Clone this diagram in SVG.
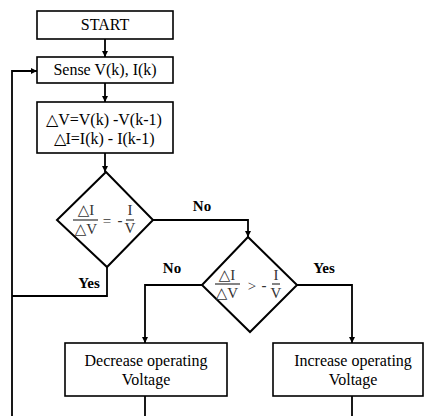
<svg xmlns="http://www.w3.org/2000/svg" width="424" height="416" viewBox="0 0 424 416">
<style>
.box{fill:#fff;stroke:#000;stroke-width:1.6}
.dia{fill:#fff;stroke:#000;stroke-width:2}
.t{font-family:"Liberation Serif","Times New Roman",serif;font-size:16px;fill:#000;text-anchor:middle}
.s{font-family:"Liberation Serif","DejaVu Serif",serif;font-size:15px;fill:#333;text-anchor:middle}
.lb{font-family:"Liberation Serif","Times New Roman",serif;font-size:15px;font-weight:bold;fill:#000;text-anchor:middle}
.c{fill:none;stroke:#000;stroke-width:1.8}
.fl{stroke:#333;stroke-width:1.2}
</style>
<defs>
<marker id="ah" markerUnits="userSpaceOnUse" markerWidth="7" markerHeight="7" refX="6" refY="3" orient="auto">
<path d="M0,0 L6,3 L0,6 z" fill="#000"/>
</marker>
</defs>
<g id="connectors">
<path class="c" d="M105,39 V57" marker-end="url(#ah)"/>
<path class="c" d="M105,83 V102" marker-end="url(#ah)"/>
<path class="c" d="M105,153 V172" marker-end="url(#ah)"/>
<path class="c" d="M107,267 V296 H12"/>
<path class="c" d="M12,416 V71 H37" marker-end="url(#ah)"/>
<path class="c" d="M153,220 H248 V237" marker-end="url(#ah)"/>
<path class="c" d="M297,285 H352 V343" marker-end="url(#ah)"/>
<path class="c" d="M202,285 H145 V343" marker-end="url(#ah)"/>
<path class="c" d="M145,396 V416"/>
<path class="c" d="M352,396 V416"/>
<text class="lb" x="89" y="288">Yes</text>
<text class="lb" x="202" y="211">No</text>
<text class="lb" x="172" y="273">No</text>
<text class="lb" x="324" y="273">Yes</text>
</g>
<g id="start">
<rect class="box" x="37" y="11" width="136" height="28"/>
<text class="t" x="105" y="30">START</text>
</g>
<g id="sense">
<rect class="box" x="37" y="57" width="136" height="26"/>
<text class="t" x="105" y="75">Sense V(k), I(k)</text>
</g>
<g id="delta">
<rect class="box" x="37" y="102" width="136" height="51"/>
<text class="t" x="104" y="125">△V=V(k) -V(k-1)</text>
<text class="t" x="104" y="144">△I=I(k) - I(k-1)</text>
</g>
<g id="decision1">
<polygon class="dia" points="106,172 153,220 107,267 57,220"/>
<text class="s" x="86" y="215">△I</text>
<line class="fl" x1="73" y1="220" x2="98" y2="220"/>
<text class="s" x="86" y="234">△V</text>
<text class="s" x="107" y="226" font-size="18">=</text>
<text class="s" x="120" y="225" font-size="17" font-weight="bold">-</text>
<text class="s" x="130" y="215" font-size="12">I</text>
<line class="fl" x1="126" y1="220" x2="134" y2="220"/>
<text class="s" x="130" y="233" font-size="12">V</text>
</g>
<g id="decision2">
<polygon class="dia" points="248,237 297,285 250,332 202,285"/>
<text class="s" x="227" y="280">△I</text>
<line class="fl" x1="215" y1="284" x2="240" y2="284"/>
<text class="s" x="227" y="298">△V</text>
<text class="s" x="252" y="291" font-size="19">&gt;</text>
<text class="s" x="264" y="290" font-size="17" font-weight="bold">-</text>
<text class="s" x="276" y="280" font-size="12">I</text>
<line class="fl" x1="272" y1="284" x2="280" y2="284"/>
<text class="s" x="276" y="298" font-size="12">V</text>
</g>
<g id="decrease">
<rect class="box" x="65" y="343" width="162" height="53"/>
<text class="t" x="146" y="366">Decrease operating</text>
<text class="t" x="146" y="385">Voltage</text>
</g>
<g id="increase">
<rect class="box" x="273" y="343" width="150" height="53"/>
<text class="t" x="353" y="366">Increase operating</text>
<text class="t" x="353" y="385">Voltage</text>
</g>
</svg>
